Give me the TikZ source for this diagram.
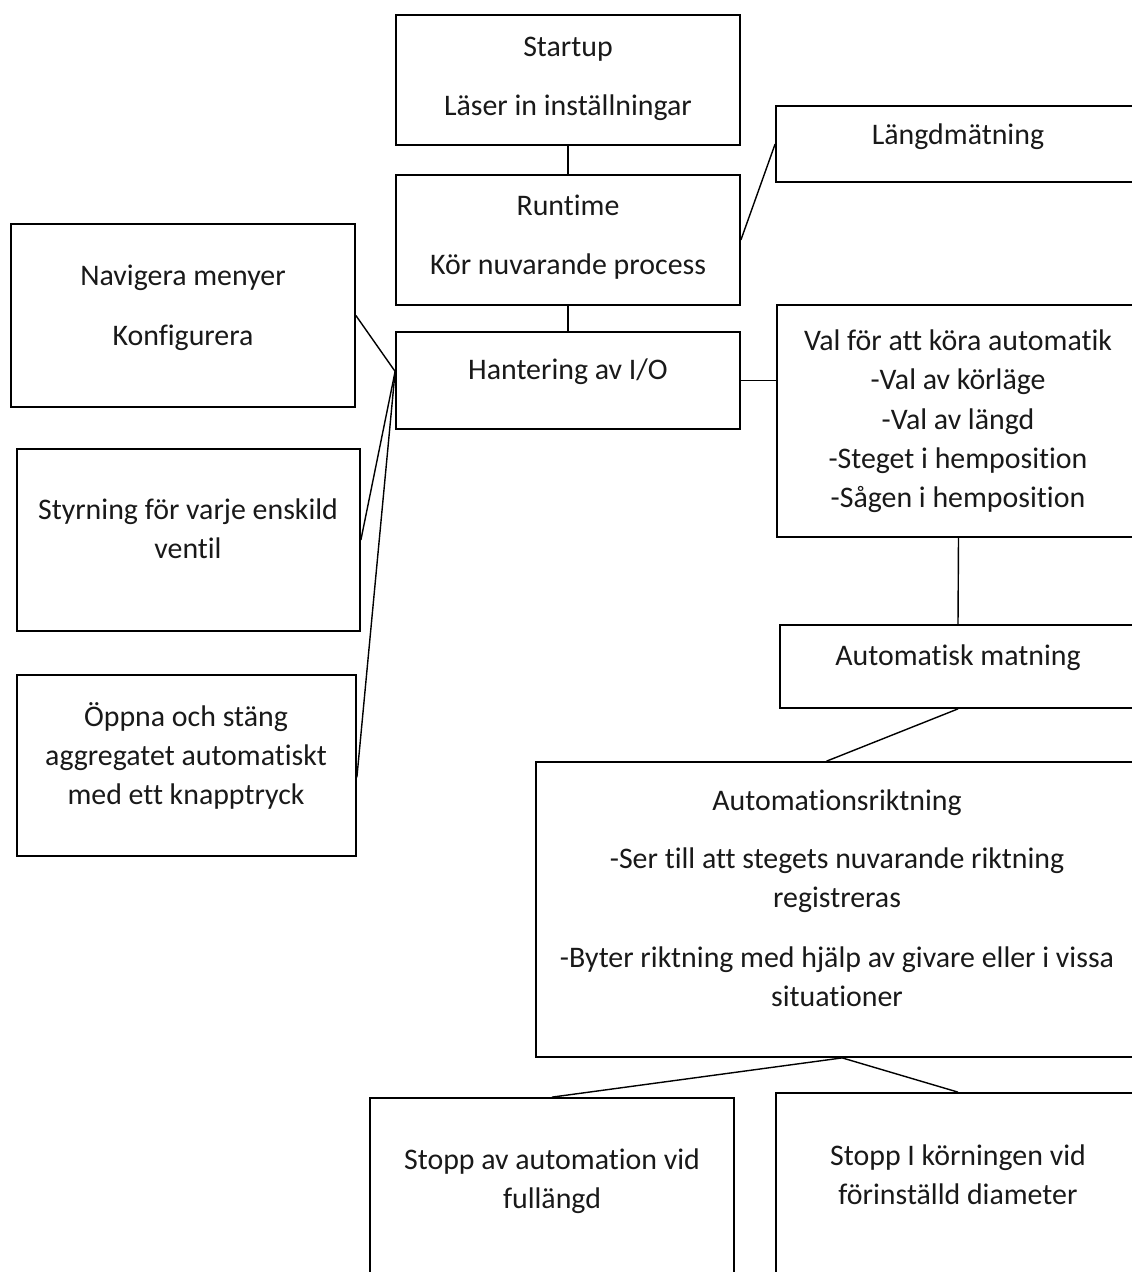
\documentclass[tikz,border=0pt]{standalone}
\usepackage{fontspec}
\setmainfont{Carlito}[Ligatures=NoCommon]
\usetikzlibrary{fit}
\tikzset{%
  ruta/.style={draw=black, line width=1pt, inner sep=0pt},
  txt/.style={align=center, anchor=base, inner sep=0pt,
              font=\fontsize{17}{22.2}\selectfont, text=black!90},
  linje/.style={draw=black, line width=0.8pt},
}

\begin{document}
\begin{tikzpicture}[x=0.02cm,y=-0.02cm]
              \useasboundingbox (0,0) rectangle (1132,1272);
              \clip (0,0) rectangle (1132,1272);
              % rutorna
              \node[ruta, fit={(396,15) (740,145)}] (startup) {};
              \node[ruta, fit={(396,175) (740,305)}] (runtime) {};
              \node[ruta, fit={(396,332) (740,429)}] (hantering) {};
              \node[ruta, fit={(776,106) (1140,182)}] (langd) {};
              \node[ruta, fit={(11,224) (355,407)}] (navigera) {};
              \node[ruta, fit={(17,449) (360,631)}] (styrning) {};
              \node[ruta, fit={(17,675) (356,856)}] (oppna) {};
              \node[ruta, fit={(777,305) (1140,537)}] (val) {};
              \node[ruta, fit={(780,625) (1136,708)}] (automatisk) {};
              \node[ruta, fit={(536,762) (1138,1057)}] (riktning) {};
              \node[ruta, fit={(370,1098) (734,1290)}] (stoppav) {};
              \node[ruta, fit={(776,1093) (1140,1290)}] (stoppi) {};
              % texterna (sista radens baslinje)
              \node[txt] (startuptxt) at (568,115) {Startup\\[0.4cm]Läser in inställningar};
              \node[txt] (runtimetxt) at (568,274) {Runtime\\[0.4cm]Kör nuvarande process};
              \node[txt] (hanteringtxt) at (568,379) {Hantering av I/O};
              \node[txt] (langdtxt) at (958,144) {Längdmätning};
              \node[txt] (navigeratxt) at (183,345) {Navigera menyer\\[0.42cm]Konfigurera};
              \node[txt] (styrningtxt) at (188,558) {Styrning för varje enskild\\ventil};
              \node[txt] (oppnatxt) at (186,804) {Öppna och stäng\\aggregatet automatiskt\\med ett knapptryck};
              \node[txt] (valtxt) at (958,507) {Val för att köra automatik\\-Val av körläge\\-Val av längd\\-Steget i hemposition\\-Sågen i hemposition};
              \node[txt] (automatisktxt) at (958,665) {Automatisk matning};
              \node[txt] (riktningtxt) at (837,1006) {Automationsriktning\\[0.39cm]-Ser till att stegets nuvarande riktning\\registreras\\[0.41cm]-Byter riktning med hjälp av givare eller i vissa\\situationer};
              \node[txt] (stoppavtxt) at (552,1208) {Stopp av automation vid\\fullängd};
              \node[txt] (stoppitxt) at (958,1204) {Stopp I körningen vid\\förinställd diameter};
              % linjerna
              \draw[linje] (startup.south) -- (runtime.north);
              \draw[linje] (runtime.south) -- (hantering.north);
              \draw[linje] (runtime.east) -- (langd.west);
              \draw[linje] (navigera.east) -- (hantering.177);
              \draw[linje] (styrning.east) -- (hantering.177);
              \draw[linje] (oppna.-4) -- (hantering.177);
              \draw[linje] (hantering.east) -- (hantering.east -| val.west);
              \draw[linje] (val.south) -- (automatisk.north);
              \draw[linje] (automatisk.south) -- (riktning.94);
              \draw[linje] (riktning.-88) -- (stoppav.north);
              \draw[linje] (riktning.-88) -- (stoppi.north);
          \end{tikzpicture}
\end{document}
